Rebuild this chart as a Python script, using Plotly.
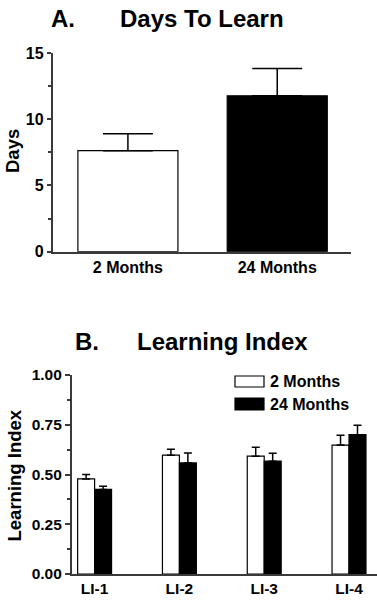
import plotly.graph_objects as go

# ---- Panel A data ----
age_groups = ["2 Months", "24 Months"]
days_mean = [7.63, 11.77]
days_sem = [1.27, 2.06]

# ---- Panel B data ----
li_categories = ["LI-1", "LI-2", "LI-3", "LI-4"]
li_2mo = [0.478, 0.597, 0.592, 0.648]
li_2mo_sem = [0.022, 0.030, 0.045, 0.049]
li_24mo = [0.425, 0.558, 0.567, 0.700]
li_24mo_sem = [0.016, 0.050, 0.040, 0.047]
series_names = ["2 Months", "24 Months"]
fills = ["white", "black"]

W, H = 377, 600
FONT = "Liberation Sans, Arial, Helvetica, sans-serif"
AXC = "#3a3a3a"


def px(x):
    return x / W


def py(y):
    return 1 - y / H


fig = go.Figure()

fig.add_trace(go.Bar(
    x=age_groups, y=days_mean, width=0.67,
    marker=dict(color=fills, line=dict(color="black", width=1.2)),
    error_y=dict(type="data", symmetric=False, array=days_sem, arrayminus=[0, 0],
                 color="black", thickness=1.5, width=25),
    xaxis="x", yaxis="y", showlegend=False,
))

for name, vals, sem, col in [(series_names[0], li_2mo, li_2mo_sem, fills[0]),
                             (series_names[1], li_24mo, li_24mo_sem, fills[1])]:
    fig.add_trace(go.Bar(
        name=name, x=li_categories, y=vals,
        marker=dict(color=col, line=dict(color="black", width=1.2)),
        error_y=dict(type="data", symmetric=False, array=sem, arrayminus=[0] * len(sem),
                     color="black", thickness=1.5, width=4),
        xaxis="x2", yaxis="y2", showlegend=False,
    ))

tickfontA = dict(family=FONT, size=16, color="black", weight="bold")
tickfontB = dict(family=FONT, size=15.5, color="black", weight="bold")

common_x = dict(showline=True, linecolor=AXC, linewidth=1.5, ticks="",
                showgrid=False, zeroline=False, type="category")

fig.update_layout(
    width=W, height=H,
    margin=dict(l=0, r=0, t=0, b=0, autoexpand=False),
    paper_bgcolor="white", plot_bgcolor="white",
    barmode="group", bargap=0.6, bargroupgap=0,
    showlegend=False,
    font=dict(family=FONT, color="black"),
    xaxis=dict(domain=[px(52.5), px(351)], anchor="y", range=[-0.505, 1.494],
               tickfont=tickfontA, **common_x),
    yaxis=dict(domain=[py(251.7), py(53)], anchor="x", range=[0, 15], dtick=5,
               tickfont=tickfontA, showline=True, linecolor=AXC, linewidth=1.5,
               ticks="outside", ticklen=4, tickwidth=1.5, tickcolor=AXC,
               showgrid=False, zeroline=False,
               minor=dict(dtick=2.5, ticklen=3, tickwidth=1.5, tickcolor=AXC, ticks="outside", showgrid=False)),
    xaxis2=dict(domain=[px(71.7), 1.0], anchor="y2", range=[-0.27, 3.33],
                tickfont=tickfontB, **common_x),
    yaxis2=dict(domain=[py(574), py(375)], anchor="x2", range=[0, 1], dtick=0.25,
                tickformat=".2f", tickfont=tickfontB, showline=True, linecolor=AXC, linewidth=1.5,
                ticks="outside", ticklen=5, tickwidth=1.5, tickcolor=AXC,
                showgrid=False, zeroline=False,
                minor=dict(dtick=0.125, ticklen=3, tickwidth=1.5, tickcolor=AXC, ticks="outside", showgrid=False)),
)

ann = []


def text(x, y, s, size, xanchor="center", angle=0):
    ann.append(dict(x=px(x), y=py(y), xref="paper", yref="paper", text="<b>%s</b>" % s,
                    showarrow=False, xanchor=xanchor, yanchor="middle", textangle=angle,
                    font=dict(family=FONT, size=size, color="black")))


text(63, 19, "A.", 24)
text(202, 19, "Days To Learn", 24)
text(12, 151, "Days", 18.5, angle=-90)
text(86.5, 341, "B.", 24)
text(222.5, 341, "Learning Index", 24)
text(13.5, 476, "Learning Index", 18.5, angle=-90)
text(268, 381.5, series_names[0], 16, xanchor="left")
text(268, 404.5, series_names[1], 16, xanchor="left")

shapes = [
    dict(type="rect", xref="paper", yref="paper", x0=px(235), x1=px(264), y0=py(387), y1=py(376),
         fillcolor=fills[0], line=dict(color="black", width=1.2)),
    dict(type="rect", xref="paper", yref="paper", x0=px(235), x1=px(264), y0=py(410), y1=py(398),
         fillcolor=fills[1], line=dict(color="black", width=1.2)),
]

fig.update_layout(annotations=ann, shapes=shapes)
fig.write_html("out.html", config={"displayModeBar": False},
               post_script="document.body.style.margin='0';document.body.style.overflow='hidden';")
